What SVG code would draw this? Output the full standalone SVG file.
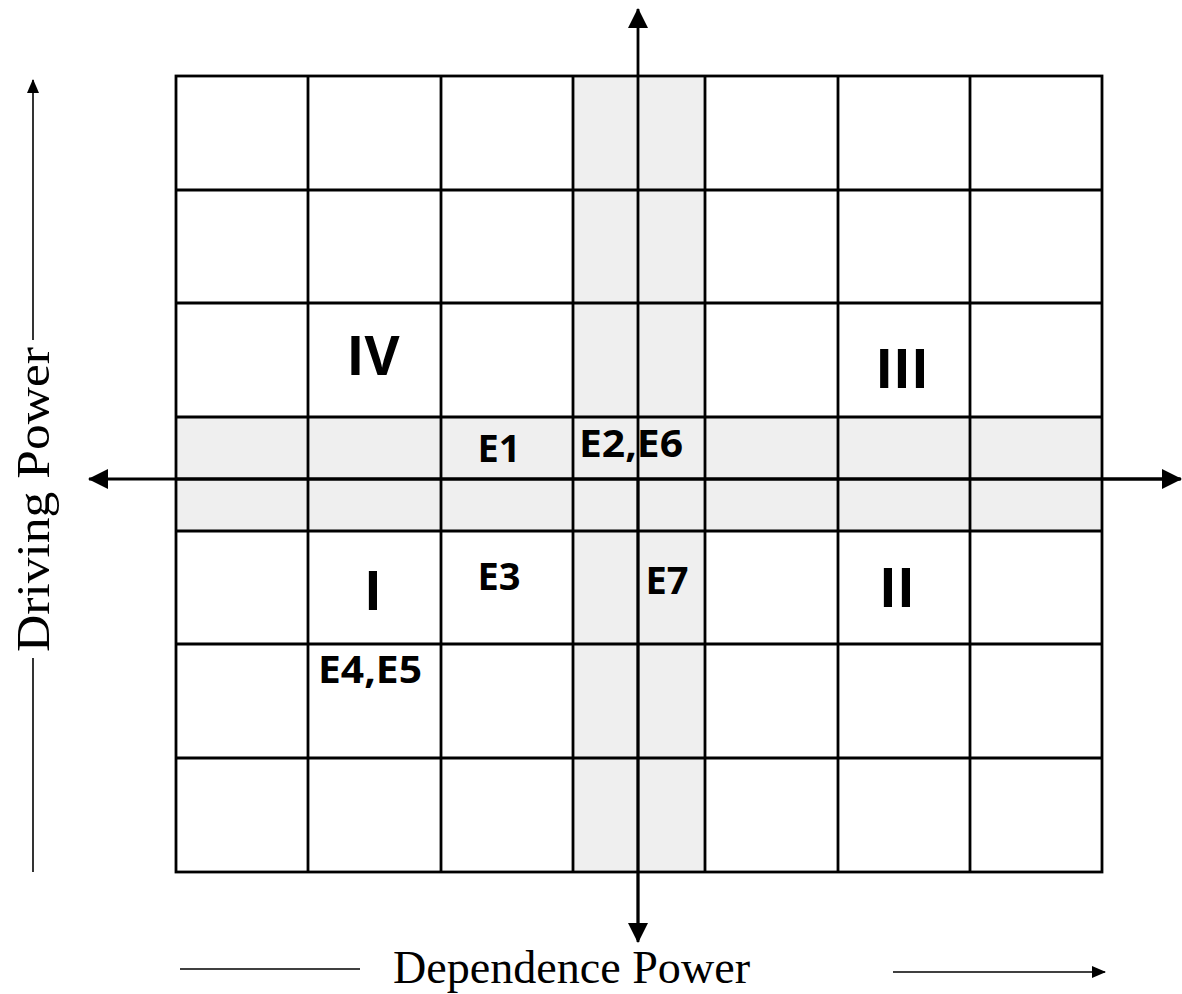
<svg xmlns="http://www.w3.org/2000/svg" width="1182" height="994" viewBox="0 0 1182 994">
<style>
.grid{stroke:#000;stroke-width:2.8;fill:none}
.shade{fill:#efefef;stroke:none}
.ax{stroke:#000;stroke-width:2.8;fill:none}
.thin{stroke:#000;stroke-width:1.6;fill:none}
.lbl{font-family:"Open Sans","Liberation Sans",sans-serif;font-weight:bold;fill:#000;text-anchor:middle}
.e{font-size:38px}
.q{font-size:54px}
.title{font-family:"Liberation Serif","Times New Roman",serif;font-size:46px;fill:#000}
</style>
<defs>
<marker id="ah" markerUnits="userSpaceOnUse" markerWidth="20" markerHeight="20" viewBox="0 0 20 20" refX="19" refY="10" orient="auto">
<path d="M0,0 L20,10 L0,20 Z" fill="#000"/>
</marker>
<marker id="ahs" markerUnits="userSpaceOnUse" markerWidth="14" markerHeight="12" viewBox="0 0 14 12" refX="13" refY="6" orient="auto">
<path d="M0,0 L14,6 L0,12 Z" fill="#000"/>
</marker>
</defs>
<rect width="1182" height="994" fill="#fff"/>
<g id="shading">
<rect class="shade" x="573" y="76" width="132" height="796"/>
<rect class="shade" x="176" y="417" width="926" height="114"/>
</g>
<g id="grid">
<rect class="grid" x="176" y="76" width="926" height="796"/>
<path class="grid" d="M308,76V872M441,76V872M573,76V872M705,76V872M838,76V872M970,76V872"/>
<path class="grid" d="M176,190H1102M176,303H1102M176,417H1102M176,531H1102M176,644H1102M176,758H1102"/>
</g>
<g id="connectors">
<line class="ax" x1="638" y1="940" x2="638" y2="9" marker-end="url(#ah)"/>
<line class="ax" x1="638" y1="480" x2="638" y2="942" marker-end="url(#ah)"/>
<line class="ax" x1="1180" y1="479" x2="89" y2="479" marker-end="url(#ah)"/>
<line class="ax" x1="176" y1="479" x2="1181" y2="479" marker-end="url(#ah)"/>
<line class="thin" x1="33" y1="340" x2="33" y2="80" marker-end="url(#ahs)"/>
<line class="thin" x1="33" y1="658" x2="33" y2="872"/>
<line class="thin" x1="180" y1="969" x2="360" y2="969"/>
<line class="thin" x1="893" y1="972" x2="1105" y2="972" marker-end="url(#ahs)"/>
</g>
<g id="axis-labels">
<text class="title" x="393" y="983" textLength="357" lengthAdjust="spacingAndGlyphs">Dependence Power</text>
<text class="title" transform="translate(49,652) rotate(-90)" x="0" y="0" textLength="305" lengthAdjust="spacingAndGlyphs">Driving Power</text>
</g>
<g id="quadrant-IV"><text class="lbl q" x="373" y="375">IV</text></g>
<g id="quadrant-III"><text class="lbl q" x="902" y="388">III</text></g>
<g id="quadrant-I"><text class="lbl q" x="373" y="610">I</text></g>
<g id="quadrant-II"><text class="lbl q" x="897" y="607">II</text></g>
<g id="node-E1"><text class="lbl e" x="499" y="462">E1</text></g>
<g id="node-E2-E6"><text class="lbl e" x="631" y="457" textLength="104" lengthAdjust="spacingAndGlyphs">E2,E6</text></g>
<g id="node-E3"><text class="lbl e" x="499" y="590">E3</text></g>
<g id="node-E7"><text class="lbl e" x="667" y="594">E7</text></g>
<g id="node-E4-E5"><text class="lbl e" x="370" y="683" textLength="104" lengthAdjust="spacingAndGlyphs">E4,E5</text></g>
</svg>
